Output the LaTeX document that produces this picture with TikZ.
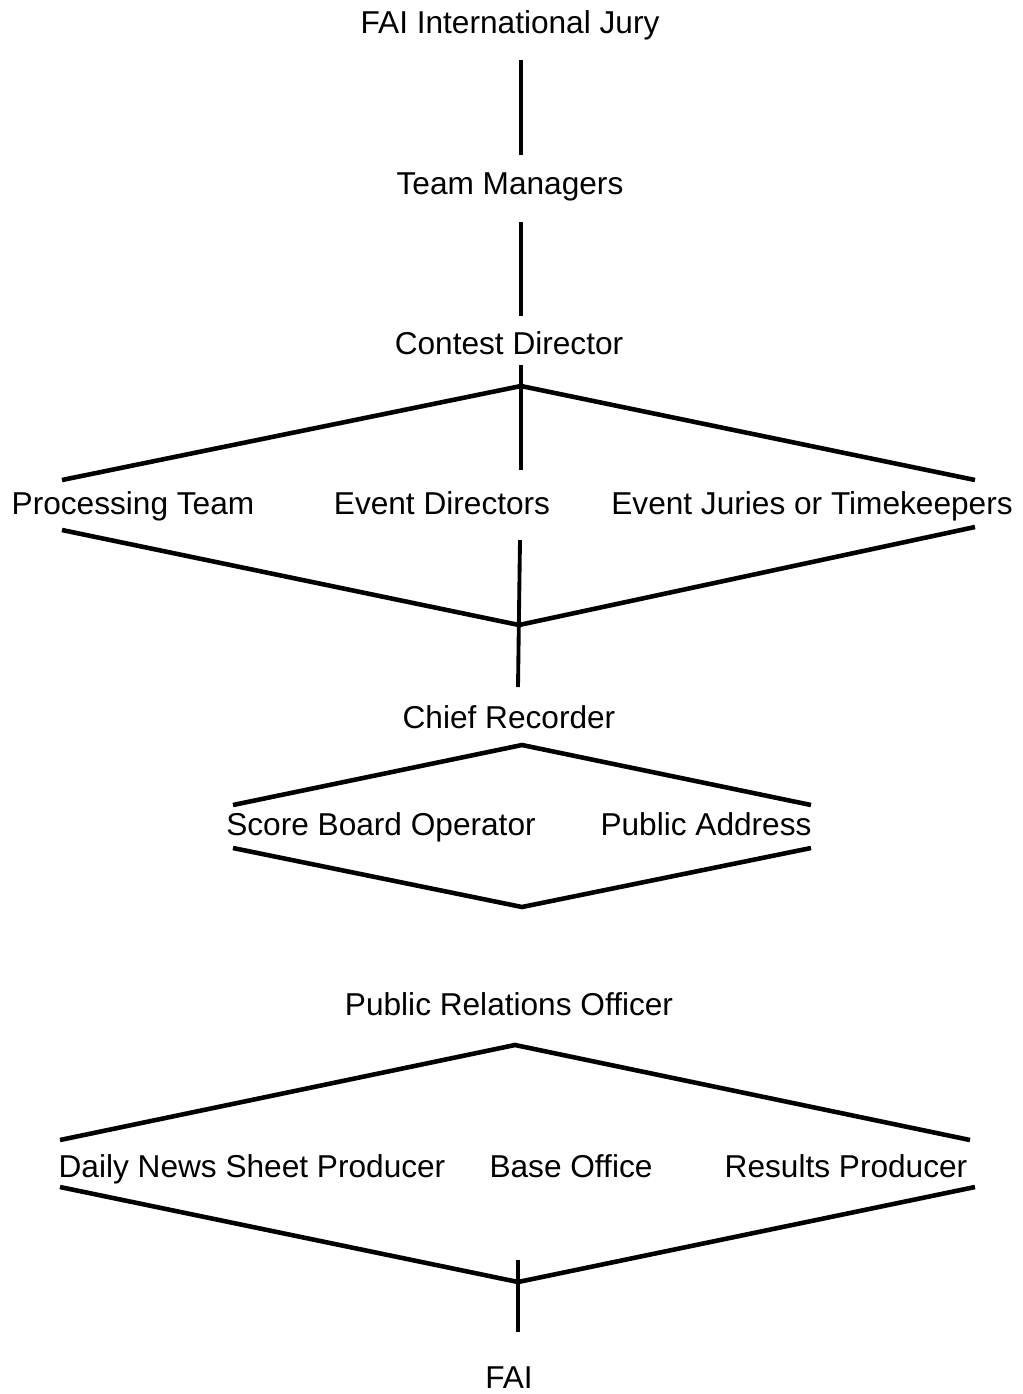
\documentclass[tikz,border=0pt]{standalone}
\usepackage{fontspec}
\setmainfont{Liberation Sans}
\usepackage{tikz}
\usetikzlibrary{positioning,calc}
\tikzset{
    unit/.style={anchor=base,inner sep=0pt,font=\fontsize{18}{22}\selectfont},
    link/.style={line width=2.2pt},
    fork/.style={line width=2.6pt}
}

\begin{document}
\begin{tikzpicture}[x=0.02cm,y=-0.02cm,every node/.style={unit}]

    \useasboundingbox (0,0) rectangle (1022,1394);

    \node (jury) at(510,33) {FAI International Jury};
    \node (mgrs) at(510,194) {Team Managers};
    \node (cd)   at(509,354) {Contest Director};
    \coordinate (j1) at(521,60);
    \coordinate (j2) at(521,155);
    \coordinate (m1) at(521,222);
    \coordinate (m2) at(521,316);
    \draw[link] (j1) -- (j2);
    \draw[link] (m1) -- (m2);

    \node (proc)   at(133,514) {Processing Team};
    \node (evdir)  at(442,514) {Event Directors};
    \node (evjury) at(812,514) {Event Juries or Timekeepers};
    \coordinate (c1) at(521,365);
    \coordinate (c2) at(521,470);
    \coordinate (ctop) at(521,386);
    \coordinate (cl) at(62,480);
    \coordinate (cr) at(975,480);
    \draw[link] (c1) -- (c2);
    \draw[fork] (cl) -- (ctop) -- (cr);

    \node (chief) at(509,728) {Chief Recorder};
    \coordinate (el) at(62,530);
    \coordinate (er) at(975,527);
    \coordinate (ebot) at(519,625);
    \coordinate (e1) at(520,540);
    \coordinate (e2) at(518,687);
    \draw[fork] (el) -- (ebot) -- (er);
    \draw[link] (e1) -- (e2);

    \node (score) at(381,835) {Score Board Operator};
    \node (pa)    at(706,835) {Public Address};
    \coordinate (rtop) at(522,745);
    \coordinate (rl1) at(233,805);
    \coordinate (rr1) at(811,805);
    \coordinate (rl2) at(233,848);
    \coordinate (rr2) at(811,848);
    \coordinate (rbot) at(522,907);
    \draw[fork] (rl1) -- (rtop) -- (rr1);
    \draw[fork] (rl2) -- (rbot) -- (rr2);

    \node (pro)     at(509,1015) {Public Relations Officer};
    \node (news)    at(252,1177) {Daily News Sheet Producer};
    \node (base)    at(571,1177) {Base Office};
    \node (results) at(846,1177) {Results Producer};
    \coordinate (ptop) at(515,1045);
    \coordinate (pl1) at(60,1140);
    \coordinate (pr1) at(970,1140);
    \coordinate (pl2) at(60,1187);
    \coordinate (pr2) at(975,1187);
    \coordinate (pbot) at(518,1282);
    \draw[fork] (pl1) -- (ptop) -- (pr1);
    \draw[fork] (pl2) -- (pbot) -- (pr2);

    \node (fai) at(509,1388) {FAI};
    \coordinate (f1) at(518,1260);
    \coordinate (f2) at(518,1332);
    \draw[link] (f1) -- (f2);

\end{tikzpicture}
\end{document}
